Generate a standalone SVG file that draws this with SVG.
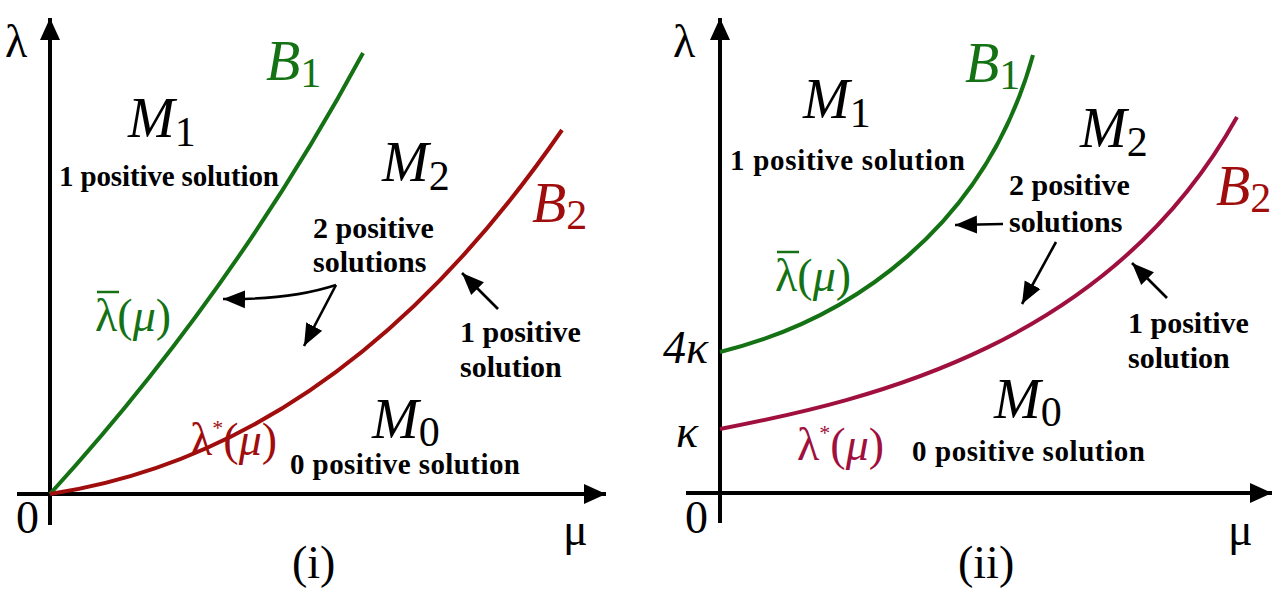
<svg xmlns="http://www.w3.org/2000/svg" width="1283" height="594" viewBox="0 0 1283 594">
<style>
text{font-family:"Liberation Serif","Times New Roman",serif;fill:#000}
.ax{stroke:#000;stroke-width:4;fill:none}
.crv{fill:none;stroke-width:4}
.g{stroke:#147214}
.r{stroke:#a00d0d}
.rr{stroke:#a0103e}
.ptr{stroke:#000;stroke-width:2.6;fill:none}
.bold{font-weight:bold;font-size:30px}
.boldl{font-weight:bold;font-size:29px}
.big{font-style:italic;font-size:56px}
.sub{font-style:normal;font-size:42px}
.lab{font-size:46px}
.axl{font-size:46px}
.gt{fill:#147214}
.rt{fill:#a00d0d}
.rrt{fill:#a0103e}
.it{font-style:italic}
</style>
<defs>
<marker id="axh" markerUnits="userSpaceOnUse" markerWidth="24" markerHeight="24" viewBox="0 0 24 24" refX="22" refY="12" orient="auto">
<path d="M0,2 L22,12 L0,22 z" fill="#000"/>
</marker>
<marker id="ph" markerUnits="userSpaceOnUse" markerWidth="24" markerHeight="20" viewBox="0 0 24 20" refX="22" refY="10" orient="auto">
<path d="M0,1 L22,10 L0,19 z" fill="#000"/>
</marker>
</defs>

<g id="panel-i">
<g id="axes-i">
<line class="ax" x1="50" y1="525" x2="50" y2="18" marker-end="url(#axh)"/>
<line class="ax" x1="17" y1="494" x2="606" y2="494" marker-end="url(#axh)"/>
<text class="axl" x="5" y="57">λ</text>
<text class="axl" x="16" y="533">0</text>
<text class="axl" x="563" y="545">μ</text>
<text class="axl" x="292" y="578">(i)</text>
</g>
<g id="connectors-i">
<path id="B1-i" class="crv g" d="M50,494 Q234,292 363,53"/>
<path id="B2-i" class="crv r" d="M50,494 Q341,450 562,130"/>
<path class="ptr" d="M336,285 Q290,300 223,299" marker-end="url(#ph)"/>
<path class="ptr" d="M336,285 L304,346" marker-end="url(#ph)"/>
<path class="ptr" d="M498,309 L462,273" marker-end="url(#ph)"/>
</g>
<g id="B1-label-i"><text class="big gt" x="266" y="80">B<tspan class="sub" dy="7">1</tspan></text></g>
<g id="B2-label-i"><text class="big rt" x="532" y="222">B<tspan class="sub" dy="7">2</tspan></text></g>
<g id="M1-i"><text class="big" x="128" y="137">M<tspan class="sub" dy="9">1</tspan></text>
<text class="boldl" x="59" y="186" textLength="220">1 positive solution</text></g>
<g id="M2-i"><text class="big" x="382" y="181">M<tspan class="sub" dy="9">2</tspan></text>
<text class="bold" x="313" y="238">2 positive</text>
<text class="bold" x="313" y="272">solutions</text></g>
<g id="M0-i"><text class="big" x="372" y="438">M<tspan class="sub" dy="8">0</tspan></text>
<text class="boldl" x="290" y="474" textLength="230">0 positive solution</text></g>
<g id="one-i"><text class="bold" x="460" y="342">1 positive</text>
<text class="bold" x="460" y="377">solution</text></g>
<g id="lbar-i"><text class="lab gt" x="95" y="331">λ(<tspan class="it">μ</tspan>)</text>
<line x1="97" y1="292" x2="119" y2="292" stroke="#147214" stroke-width="2.5"/></g>
<g id="lstar-i"><text class="lab rt" x="190" y="455" font-size="44">λ<tspan font-size="22" dy="-20">*</tspan><tspan dy="20">(</tspan><tspan class="it">μ</tspan>)</text></g>
</g>

<g id="panel-ii">
<g id="axes-ii">
<line class="ax" x1="720" y1="523" x2="720" y2="18" marker-end="url(#axh)"/>
<line class="ax" x1="686" y1="493" x2="1272" y2="493" marker-end="url(#axh)"/>
<text class="axl" x="673" y="57">λ</text>
<text class="axl" x="685" y="533">0</text>
<text class="axl" x="1228" y="545">μ</text>
<text class="axl" x="958" y="578">(ii)</text>
<text class="axl it" x="663" y="363">4κ</text>
<text class="axl it" x="676" y="447">κ</text>
</g>
<g id="connectors-ii">
<path id="B1-ii" class="crv g" d="M720,352 C850,320 985,228 1033,55"/>
<path id="B2-ii" class="crv rr" d="M720,429 C870,400 1110,345 1237,117"/>
<path class="ptr" d="M1003,224 L955,225" marker-end="url(#ph)"/>
<path class="ptr" d="M1056,242 L1022,304" marker-end="url(#ph)"/>
<path class="ptr" d="M1167,298 L1132,263" marker-end="url(#ph)"/>
</g>
<g id="B1-label-ii"><text class="big gt" x="965" y="82">B<tspan class="sub" dy="7">1</tspan></text></g>
<g id="B2-label-ii"><text class="big rt" x="1216" y="205">B<tspan class="sub" dy="7">2</tspan></text></g>
<g id="M1-ii"><text class="big" x="803" y="118">M<tspan class="sub" dy="9">1</tspan></text>
<text class="boldl" x="730" y="170" textLength="235">1 positive solution</text></g>
<g id="M2-ii"><text class="big" x="1080" y="147">M<tspan class="sub" dy="9">2</tspan></text>
<text class="bold" x="1009" y="195">2 positive</text>
<text class="bold" x="1009" y="232">solutions</text></g>
<g id="M0-ii"><text class="big" x="994" y="418">M<tspan class="sub" dy="8">0</tspan></text>
<text class="boldl" x="912" y="461" textLength="233">0 positive solution</text></g>
<g id="one-ii"><text class="bold" x="1128" y="333">1 positive</text>
<text class="bold" x="1128" y="368">solution</text></g>
<g id="lbar-ii"><text class="lab gt" x="775" y="291">λ(<tspan class="it">μ</tspan>)</text>
<line x1="777" y1="252" x2="799" y2="252" stroke="#147214" stroke-width="2.5"/></g>
<g id="lstar-ii"><text class="lab rrt" x="797" y="460" font-size="44">λ<tspan font-size="22" dy="-20">*</tspan><tspan dy="20">(</tspan><tspan class="it">μ</tspan>)</text></g>
</g>
</svg>
